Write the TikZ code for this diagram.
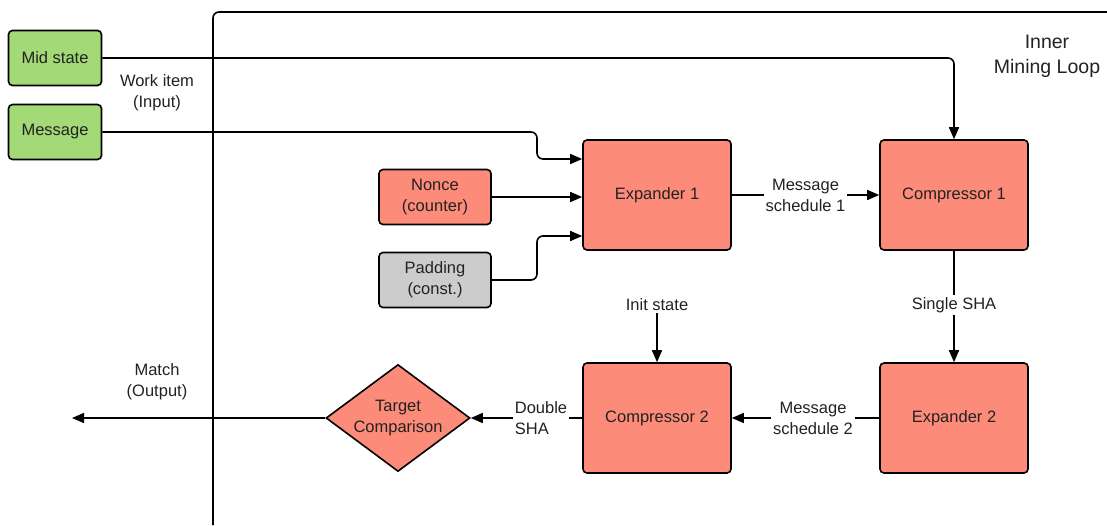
\documentclass[tikz,border=0pt]{standalone}
\usepackage{fontspec}
\setmainfont{Liberation Sans}
\usetikzlibrary{arrows.meta,shapes.geometric}
\definecolor{boxgreen}{HTML}{A3D977}
\definecolor{boxred}{HTML}{FC8B7A}
\definecolor{boxgrey}{HTML}{CCCCCC}
\definecolor{txt}{HTML}{222222}
\tikzset{
  base/.style={draw=black, line width=1.6pt, rounded corners=4pt, align=center, inner sep=0pt, text=txt, font=\fontsize{16.5}{21}\selectfont},
  inbox/.style={base, fill=boxgreen, minimum width=93pt, minimum height=55pt},
  smallbox/.style={base, fill=boxred, minimum width=112pt, minimum height=55pt},
  padbox/.style={base, fill=boxgrey, minimum width=112pt, minimum height=55pt},
  bigbox/.style={base, fill=boxred, minimum width=148pt, minimum height=110pt},
  decision/.style={diamond, draw=black, line width=1.6pt, fill=boxred, aspect=1.35, minimum width=144pt, minimum height=107pt, inner sep=0pt, align=center, text=txt, font=\fontsize{16.5}{21}\selectfont},
  lbl/.style={align=center, inner sep=2pt, text=txt, font=\fontsize{16.5}{21}\selectfont},
  wlbl/.style={lbl, fill=white},
  arr/.style={line width=1.6pt, -{Triangle[length=12pt,width=10pt]}},
  ln/.style={line width=1.6pt},
}
\begin{document}
\begin{tikzpicture}[x=1pt,y=-1pt]
\useasboundingbox (0,0) rectangle (1107,525);
% frame
\draw[ln, rounded corners=6pt] (213,525) -- (213,12) -- (1110,12);
\node[lbl, font=\fontsize{19.5}{25}\selectfont] (loop) at (1047,56) {Inner\\Mining Loop};
% inputs
\node[inbox] (mid) at (55,58) {Mid state};
\node[inbox] (msg) at (55,132) {Message};
\node[lbl] (work) at (157,93) {Work item\\(Input)};
\node[smallbox] (nonce) at (435,197) {Nonce\\(counter)};
\node[padbox] (pad) at (435,280) {Padding\\(const.)};
% main blocks
\node[bigbox] (exp1) at (657,195) {Expander 1};
\node[bigbox] (comp1) at (954,195) {Compressor 1};
\node[bigbox] (exp2) at (954,418) {Expander 2};
\node[bigbox] (comp2) at (657,418) {Compressor 2};
\node[decision] (target) at (398,418) {Target\\Comparison};
% connectors
\draw[arr, rounded corners=6pt] (mid.east) -| (comp1.north);
\draw[arr, rounded corners=6pt] (msg.east) -- (537,132) |- ([yshift=36pt]exp1.west);
\draw[arr] (nonce.east) -- (nonce.east -| exp1.west);
\draw[arr, rounded corners=6pt] (pad.east) -- (537,280) |- ([yshift=-41pt]exp1.west);
\draw[arr] (exp1.east) -- (comp1.west) node[wlbl, pos=0.5] (ms1) {Message\\schedule 1};
\draw[arr] (comp1.south) -- (exp2.north);
\node[wlbl] (ssha) at (954,305) {Single SHA};
\node[lbl] (init) at (657,305) {Init state};
\draw[arr] (init.south) -- (comp2.north);
\draw[arr] (exp2.west) -- (comp2.east);
\node[wlbl] (ms2) at (813,418) {Message\\schedule 2};
\draw[arr] (comp2.west) -- (target.east);
\node[wlbl, align=left] (dsha) at (541,418) {Double\\SHA};
\coordinate (out) at (72,418);
\draw[arr] (target.west) -- (out);
\node[lbl] (match) at (157,382) {Match\\(Output)};
\end{tikzpicture}
\end{document}
